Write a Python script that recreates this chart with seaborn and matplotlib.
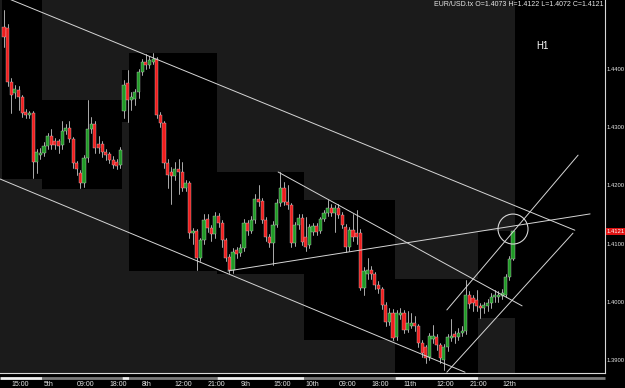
import numpy as np
import pandas as pd
import matplotlib
matplotlib.use("Agg")
import matplotlib.pyplot as plt
import matplotlib.transforms as mtransforms
from matplotlib.patches import Rectangle, Ellipse
import seaborn as sns

# ---------------- data (EUR/USD.tx, H1) ----------------
opens = [1.4472, 1.4470, 1.4378, 1.4359, 1.4364, 1.4352, 1.4326, 1.4321, 1.4324, 1.4240,
         1.4252, 1.4256, 1.4268, 1.4285, 1.4276, 1.4276, 1.4269, 1.4293, 1.4299, 1.4280,
         1.4238, 1.4221, 1.4204, 1.4247, 1.4297, 1.4305, 1.4271, 1.4271, 1.4257, 1.4254,
         1.4244, 1.4240, 1.4235, 1.4328, 1.4376, 1.4347, 1.4348, 1.4360, 1.4395, 1.4412,
         1.4407, 1.4412, 1.4417, 1.4321, 1.4307, 1.4238, 1.4223, 1.4216, 1.4228, 1.4223,
         1.4196, 1.4204, 1.4118, 1.4122, 1.4075, 1.4106, 1.4142, 1.4127, 1.4116, 1.4147,
         1.4135, 1.4106, 1.4077, 1.4055, 1.4089, 1.4084, 1.4092, 1.4135, 1.4122, 1.4141,
         1.4177, 1.4174, 1.4141, 1.4111, 1.4101, 1.4132, 1.4170, 1.4196, 1.4171, 1.4166,
         1.4101, 1.4132, 1.4144, 1.4112, 1.4098, 1.4120, 1.4130, 1.4122, 1.4142, 1.4153,
         1.4161, 1.4153, 1.4161, 1.4149, 1.4129, 1.4094, 1.4123, 1.4118, 1.4118, 1.4024,
         1.4048, 1.4055, 1.4048, 1.4029, 1.4022, 1.3995, 1.3965, 1.3981, 1.3940, 1.3977,
         1.3981, 1.3952, 1.3958, 1.3964, 1.3958, 1.3929, 1.3922, 1.3905, 1.3936, 1.3940,
         1.3926, 1.3900, 1.3922, 1.3938, 1.3945, 1.3940, 1.3946, 1.3950, 1.4012, 1.4007,
         1.4003, 1.3993, 1.3989, 1.3992, 1.3998, 1.4008, 1.4008, 1.4010, 1.4012, 1.4043,
         1.4073]
highs = [1.4501, 1.4478, 1.4385, 1.4372, 1.4370, 1.4356, 1.4332, 1.4328, 1.4327, 1.4262,
         1.4265, 1.4275, 1.4290, 1.4297, 1.4282, 1.4280, 1.4310, 1.4305, 1.4310, 1.4284,
         1.4242, 1.4226, 1.4252, 1.4347, 1.4318, 1.4310, 1.4285, 1.4276, 1.4262, 1.4258,
         1.4250, 1.4245, 1.4266, 1.4381, 1.4398, 1.4360, 1.4365, 1.4400, 1.4418, 1.4425,
         1.4422, 1.4427, 1.4420, 1.4326, 1.4310, 1.4245, 1.4232, 1.4240, 1.4245, 1.4240,
         1.4210, 1.4208, 1.4127, 1.4125, 1.4110, 1.4150, 1.4150, 1.4132, 1.4155, 1.4152,
         1.4140, 1.4110, 1.4082, 1.4092, 1.4094, 1.4100, 1.4142, 1.4140, 1.4147, 1.4185,
         1.4200, 1.4178, 1.4146, 1.4116, 1.4138, 1.4176, 1.4223, 1.4205, 1.4200, 1.4170,
         1.4137, 1.4150, 1.4150, 1.4146, 1.4133, 1.4136, 1.4135, 1.4146, 1.4158, 1.4175,
         1.4168, 1.4166, 1.4168, 1.4155, 1.4133, 1.4128, 1.4150, 1.4157, 1.4125, 1.4060,
         1.4075, 1.4062, 1.4052, 1.4035, 1.4026, 1.4000, 1.3990, 1.3988, 1.3986, 1.3990,
         1.3986, 1.3985, 1.3980, 1.3975, 1.3962, 1.3935, 1.3926, 1.3946, 1.3960, 1.3945,
         1.3930, 1.3928, 1.3945, 1.3970, 1.3950, 1.3955, 1.3958, 1.4038, 1.4018, 1.4012,
         1.4020, 1.3998, 1.4000, 1.4005, 1.4015, 1.4020, 1.4018, 1.4022, 1.4048, 1.4078,
         1.4122]
lows = [1.4438, 1.4370, 1.4324, 1.4350, 1.4330, 1.4318, 1.4315, 1.4316, 1.4213, 1.4221,
        1.4245, 1.4250, 1.4262, 1.4262, 1.4262, 1.4255, 1.4262, 1.4288, 1.4275, 1.4230,
        1.4218, 1.4196, 1.4198, 1.4240, 1.4290, 1.4255, 1.4255, 1.4248, 1.4244, 1.4238,
        1.4230, 1.4228, 1.4230, 1.4315, 1.4309, 1.4330, 1.4338, 1.4350, 1.4390, 1.4400,
        1.4402, 1.4408, 1.4315, 1.4300, 1.4230, 1.4195, 1.4168, 1.4210, 1.4185, 1.4190,
        1.4190, 1.4110, 1.4100, 1.4055, 1.4070, 1.4100, 1.4120, 1.4105, 1.4110, 1.4128,
        1.4095, 1.4070, 1.4050, 1.4050, 1.4075, 1.4078, 1.4088, 1.4115, 1.4118, 1.4135,
        1.4165, 1.4135, 1.4105, 1.4095, 1.4063, 1.4128, 1.4165, 1.4166, 1.4160, 1.4095,
        1.4096, 1.4125, 1.4098, 1.4088, 1.4092, 1.4115, 1.4114, 1.4118, 1.4138, 1.4148,
        1.4148, 1.4120, 1.4144, 1.4126, 1.4085, 1.4088, 1.4105, 1.4100, 1.4020, 1.4012,
        1.4040, 1.4040, 1.4022, 1.4015, 1.3988, 1.3958, 1.3960, 1.3934, 1.3935, 1.3970,
        1.3946, 1.3948, 1.3955, 1.3950, 1.3922, 1.3905, 1.3895, 1.3900, 1.3930, 1.3918,
        1.3895, 1.3883, 1.3915, 1.3932, 1.3930, 1.3935, 1.3942, 1.3945, 1.3990, 1.3985,
        1.3985, 1.3972, 1.3980, 1.3985, 1.3990, 1.4000, 1.4000, 1.4005, 1.4008, 1.4038,
        1.4072]
closes = [1.4455, 1.4378, 1.4355, 1.4366, 1.4352, 1.4324, 1.4321, 1.4324, 1.4240, 1.4257,
          1.4256, 1.4268, 1.4285, 1.4269, 1.4269, 1.4268, 1.4293, 1.4299, 1.4280, 1.4238,
          1.4228, 1.4204, 1.4247, 1.4297, 1.4305, 1.4264, 1.4264, 1.4257, 1.4252, 1.4244,
          1.4235, 1.4233, 1.4261, 1.4373, 1.4347, 1.4352, 1.4360, 1.4395, 1.4412, 1.4407,
          1.4415, 1.4417, 1.4321, 1.4307, 1.4238, 1.4218, 1.4216, 1.4228, 1.4223, 1.4196,
          1.4204, 1.4118, 1.4122, 1.4075, 1.4106, 1.4141, 1.4127, 1.4116, 1.4147, 1.4135,
          1.4106, 1.4075, 1.4055, 1.4086, 1.4082, 1.4092, 1.4135, 1.4122, 1.4141, 1.4177,
          1.4171, 1.4141, 1.4111, 1.4101, 1.4132, 1.4170, 1.4196, 1.4171, 1.4166, 1.4101,
          1.4132, 1.4144, 1.4103, 1.4094, 1.4129, 1.4130, 1.4120, 1.4142, 1.4153, 1.4161,
          1.4153, 1.4161, 1.4149, 1.4132, 1.4094, 1.4123, 1.4111, 1.4111, 1.4024, 1.4053,
          1.4055, 1.4048, 1.4029, 1.4022, 1.3995, 1.3965, 1.3981, 1.3938, 1.3981, 1.3981,
          1.3952, 1.3964, 1.3964, 1.3958, 1.3929, 1.3912, 1.3903, 1.3941, 1.3941, 1.3926,
          1.3903, 1.3922, 1.3940, 1.3941, 1.3940, 1.3946, 1.3950, 1.4012, 1.3996, 1.3998,
          1.3993, 1.3989, 1.3995, 1.3998, 1.4008, 1.4012, 1.4012, 1.4015, 1.4043, 1.4073,
          1.4121]

# x-axis labels (every 9 bars)
tick_pos = [2, 11, 20, 29, 38, 47, 56, 65, 74, 83, 92, 101, 110, 119, 128, 137]
tick_labels = ["15:00", "5th", "09:00", "18:00", "8th", "12:00", "21:00", "9th",
               "15:00", "10th", "09:00", "18:00", "11th", "12:00", "21:00", "12th"]

# daily ranges (background boxes)
day_start = [0, 11, 33, 35, 59, 83, 108, 131]
day_end = [10, 32, 34, 58, 82, 107, 130, 140]
day_high = [1.4540, 1.4347, 1.4398, 1.4427, 1.4223, 1.4175, 1.4039, 1.4122]
day_low = [1.4211, 1.4194, 1.4309, 1.4053, 1.4048, 1.3934, 1.3878, 1.3972]

price_ticks = [1.39, 1.40, 1.41, 1.42, 1.43, 1.44]
last_price = 1.4121

# hand-drawn trend lines: (bar0, price0, bar1, price1)
trend_lines = [
    (1.9, 1.4519, 157.0, 1.4123),
    (-1.1, 1.4211, 126.8, 1.3879),
    (75.4, 1.4223, 142.5, 1.3993),
    (61.6, 1.4053, 161.2, 1.4151),
    (121.8, 1.3879, 156.5, 1.4118),
    (121.8, 1.3986, 157.9, 1.4252),
]
circle_center = (140.0, 1.4125)

# ---------------- styling ----------------
sns.set_theme(style="dark")
plt.rcParams["font.family"] = ["Liberation Sans", "DejaVu Sans"]

W, H = 625, 388
fig = plt.figure(figsize=(W / 100, H / 100), dpi=100, facecolor="black")
ax_w_px, ax_h_px = 605, 373
ax = fig.add_axes([0, (H - ax_h_px) / H, ax_w_px / W, ax_h_px / H])
ax.set_facecolor("#1b1b1b")

n = len(opens)
idx = np.arange(n)
xmin, xmax = -1.1, 165.3
ymin, ymax = 1.387766, 1.451856
ax.set_xlim(xmin, xmax)
ax.set_ylim(ymin, ymax)

# daily range boxes
for s, e, hi, lo in zip(day_start, day_end, day_high, day_low):
    ax.add_patch(Rectangle((s - 0.5, lo), e - s + 1, hi - lo, facecolor="black",
                           edgecolor="none", zorder=0.5))
ax.add_patch(Rectangle((n - 0.5, ymin), xmax - n + 0.5, ymax - ymin,
                       facecolor="black", edgecolor="none", zorder=0.5))

# wicks via seaborn
wick_df = pd.DataFrame({
    "bar": np.concatenate([idx, idx]),
    "unit": np.concatenate([idx, idx]),
    "price": np.concatenate([highs, lows]),
})
sns.lineplot(data=wick_df, x="bar", y="price", units="unit", estimator=None,
             color="#c8c8c8", linewidth=0.6, ax=ax, legend=False, zorder=2)

# bodies
o = np.array(opens)
c = np.array(closes)
up = c >= o
body_h = np.where(np.abs(c - o) < 0.00012, 0.00012, np.abs(c - o))
body_b = np.minimum(o, c)
colors = np.where(up, "#1f9a25", "#ee1c1c")
ax.bar(idx, body_h, bottom=body_b, width=0.86, color=colors,
       edgecolor="#d8d8d8", linewidth=0.25, zorder=3)

# trend lines and circle
for x0, y0, x1, y1 in trend_lines:
    ax.plot([x0, x1], [y0, y1], color="#d6d6d6", linewidth=0.7, zorder=4)
ax.add_patch(Ellipse(circle_center, width=30 / (ax_w_px / (xmax - xmin)),
                     height=30 / (ax_h_px / (ymax - ymin)), fill=False,
                     edgecolor="#d6d6d6", linewidth=0.8, zorder=4))

# axes: right price scale
ax.yaxis.tick_right()
ax.set_yticks(price_ticks)
ax.set_yticklabels([f"{p:.4f}" for p in price_ticks])
ax.tick_params(axis="y", colors="#e8e8e8", labelsize=4.2, length=0, pad=1.2,
               direction="out", right=True, left=False)
ax.set_xticks([])
ax.set_xlabel("")
ax.set_ylabel("")
ax.grid(False)
for side in ["top", "left"]:
    ax.spines[side].set_visible(False)
for side in ["right", "bottom"]:
    ax.spines[side].set_visible(True)
    ax.spines[side].set_color("#d8d8d8")
    ax.spines[side].set_linewidth(0.8)

# current price tag
trans_y = mtransforms.blended_transform_factory(ax.transAxes, ax.transData)
ax.text(1.0 + 1.5 / ax_w_px, last_price, f"{last_price:.4f}", transform=trans_y,
        ha="left", va="center", fontsize=4.2, color="white", zorder=6,
        bbox=dict(facecolor="#e01414", edgecolor="none", pad=0.5), clip_on=False)

# time scale band below the chart
trans_x = mtransforms.blended_transform_factory(ax.transData, ax.transAxes)
band_y = -4.5 / ax_h_px
for k, (s, e) in enumerate(zip(day_start, day_end)):
    x1 = e + 0.5 if k < len(day_start) - 1 else xmax
    ax.plot([s - 0.5 if k > 0 else xmin, x1], [band_y, band_y], transform=trans_x,
            color="#f0f0f0" if k % 2 == 0 else "#7a7a7a", linewidth=2.0,
            solid_capstyle="butt", clip_on=False)
for p, lab in zip(tick_pos, tick_labels):
    ax.text(p, -11 / ax_h_px, lab, transform=trans_x, ha="left", va="center",
            fontsize=5, color="#e8e8e8", clip_on=False)

# header texts
fig.text(603 / W, 1 - 5 / H, "EUR/USD.tx O=1.4073 H=1.4122 L=1.4072 C=1.4121",
         ha="right", va="center", fontsize=5, color="#e8e8e8")
fig.text(542 / W, 1 - 46 / H, "H1", ha="center", va="center", fontsize=7,
         color="white")

fig.savefig("out.png", dpi=100, facecolor="black")
